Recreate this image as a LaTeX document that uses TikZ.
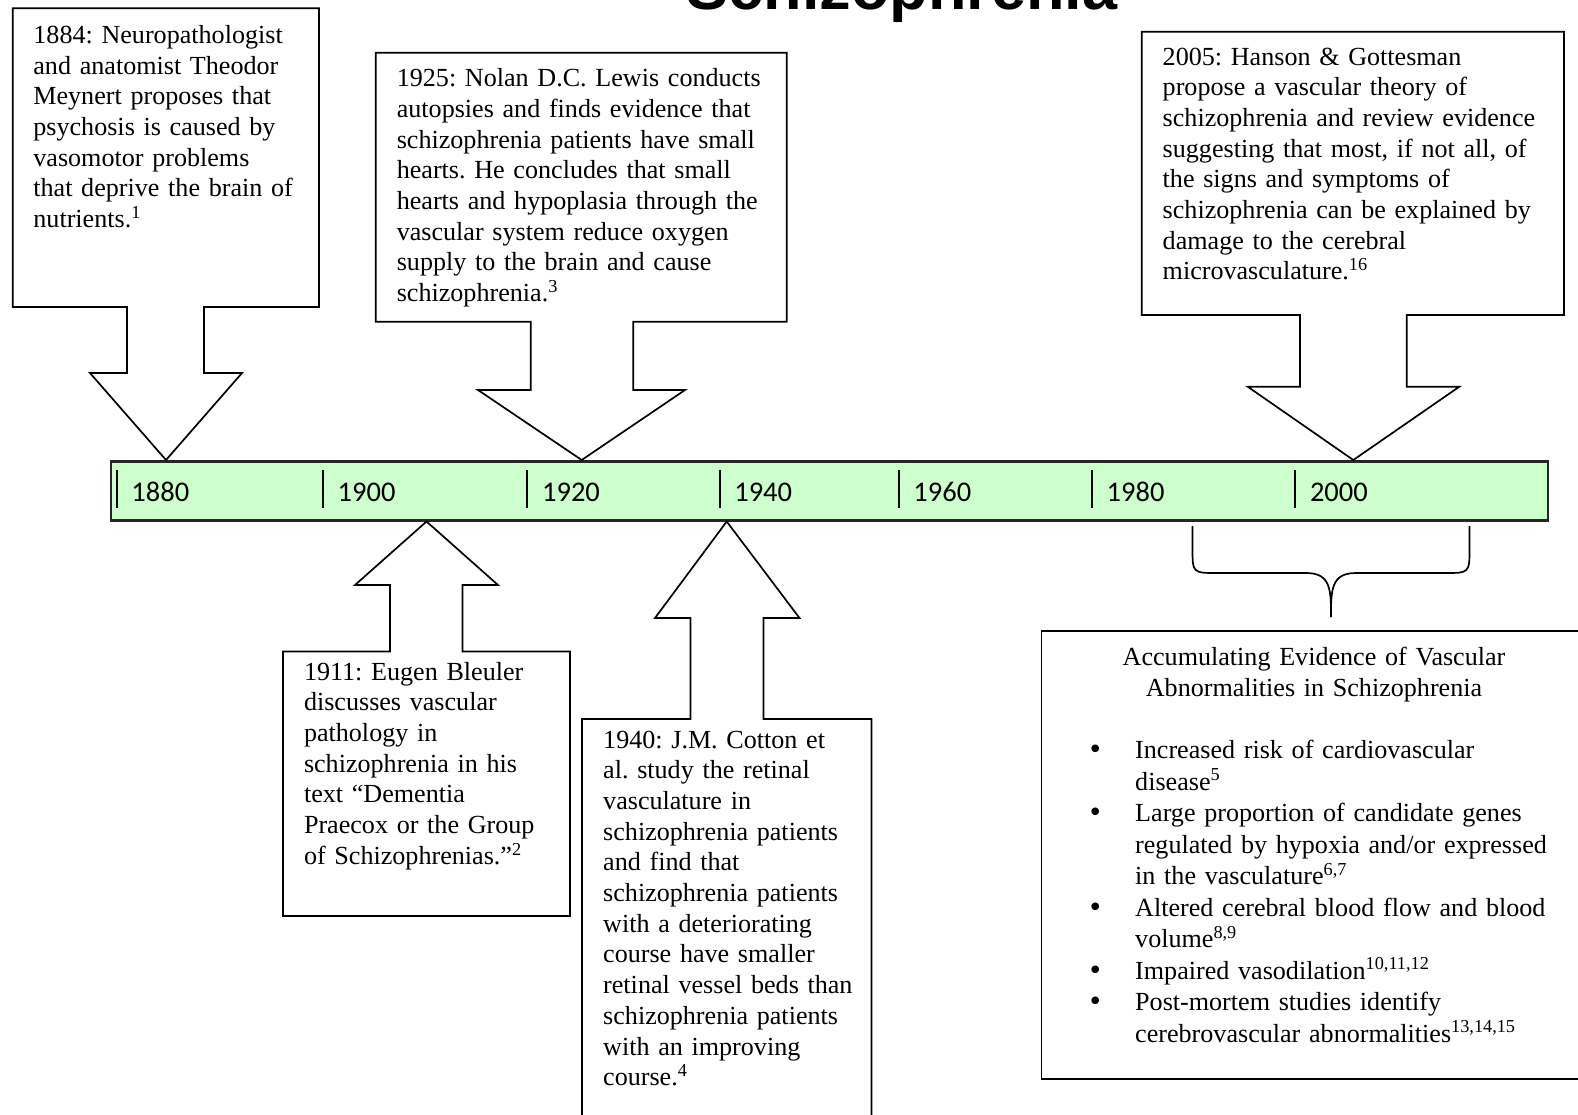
\documentclass[tikz,border=0pt]{standalone}
\usepackage{fontspec}
\setmainfont{Liberation Serif}
\newfontfamily\yearfont{Carlito}
\newfontfamily\titlefont{Liberation Sans}
\newfontfamily\bulletfont{DejaVu Sans}
\usepackage{tikz}
\usepackage{color}
\definecolor{barGreen}{RGB}{204,255,204}
\newcommand{\evbullet}{\makebox[45.5pt][l]{\hspace*{-2pt}{\bulletfont •}}}
\frenchspacing

\begin{document}
\begin{tikzpicture}[x=1pt, y=-1pt, line join=miter,
		callout/.style={draw=black, fill=white, line width=1.7pt},
		event/.style={anchor=base west, inner sep=0pt, text width=440pt, align=left,
			font=\fontsize{26.1}{30.7}\selectfont}]
		\path[use as bounding box, clip] (0,0) rectangle (1578,1114);
		
		% Title
		\node[anchor=base, inner sep=0pt, font=\titlefont\bfseries\fontsize{63}{70}\selectfont] (title) at (902,9.5) {Schizophrenia};
		
		% Time line
		\node[anchor=north west, fill=barGreen, draw=black!85, line width=2.5pt,
			minimum width=1437pt, minimum height=59pt, inner sep=0pt] (bar) at (109.7,460) {};
		\begin{scope}[every path/.style={draw=black, line width=2pt}]
			\draw (116.7,470) -- (116.7,508);
			\draw (323,470) -- (323,508);
			\draw (527.4,470) -- (527.4,508);
			\draw (719.6,470) -- (719.6,508);
			\draw (898.7,470) -- (898.7,508);
			\draw (1092,470) -- (1092,508);
			\draw (1295.3,470) -- (1295.3,508);
		\end{scope}
		\begin{scope}[every node/.style={anchor=base west, inner sep=0pt, font=\yearfont\fontsize{28.5}{30}\selectfont}]
			\node (y1880) at (131.2,501) {1880};
			\node (y1900) at (337.5,501) {1900};
			\node (y1920) at (541.9,501) {1920};
			\node (y1940) at (734.1,501) {1940};
			\node (y1960) at (913.2,501) {1960};
			\node (y1980) at (1106.5,501) {1980};
			\node (y2000) at (1309.8,501) {2000};
		\end{scope}
		
		% Callouts above the line
		\draw[callout] (12.7,307) -- (12.7,8.3) -- (319,8.3) -- (319,307) -- (204,307) -- (204,373)
			-- (242,373) -- (166,0 |- bar.north) -- (90,373) -- (127,373) -- (127,307) -- cycle;
		\draw[callout] (375.7,321.7) -- (375.7,52.7) -- (786.7,52.7) -- (786.7,321.7) -- (633.3,321.7) -- (633.3,390)
			-- (685,390) -- (581.7,0 |- bar.north) -- (478,390) -- (530.7,390) -- (530.7,321.7) -- cycle;
		\draw[callout] (1141.7,315) -- (1141.7,31.7) -- (1564,31.7) -- (1564,315) -- (1406.7,315) -- (1406.7,386.7)
			-- (1459.3,386.7) -- (1353.3,0 |- bar.north) -- (1247.7,386.7) -- (1300,386.7) -- (1300,315) -- cycle;
		
		% Callouts below the line
		\draw[callout] (283,651.5) -- (283,916) -- (570,916) -- (570,651.5) -- (462.5,651.5) -- (462.5,585)
			-- (498,585) -- (426.5,0 |- bar.south) -- (355,585) -- (390,585) -- (390,651.5) -- cycle;
		\draw[callout] (582,719) -- (582,1140) -- (871.5,1140) -- (871.5,719) -- (763.5,719) -- (763.5,618)
			-- (799.5,618) -- (726.7,0 |- bar.south) -- (655,618) -- (690.5,618) -- (690.5,719) -- cycle;
		
		% Event texts
		\node[event] (e1884) at (33.2,43.3) {1884: Neuropathologist\\
			and anatomist Theodor\\
			Meynert proposes that\\
			psychosis is caused by\\
			vasomotor problems\\
			that deprive the brain of\\
			nutrients.\textsuperscript{1}};
		\node[event] (e1925) at (396.6,86.7) {1925: Nolan D.C. Lewis conducts\\
			autopsies and finds evidence that\\
			schizophrenia patients have small\\
			hearts. He concludes that small\\
			hearts and hypoplasia through the\\
			vascular system reduce oxygen\\
			supply to the brain and cause\\
			schizophrenia.\textsuperscript{3}};
		\node[event] (e2005) at (1162.5,65) {2005: Hanson \& Gottesman\\
			propose a vascular theory of\\
			schizophrenia and review evidence\\
			suggesting that most, if not all, of\\
			the signs and symptoms of\\
			schizophrenia can be explained by\\
			damage to the cerebral\\
			microvasculature.\textsuperscript{16}};
		\node[event] (e1911) at (303.8,680) {1911: Eugen Bleuler\\
			discusses vascular\\
			pathology in\\
			schizophrenia in his\\
			text “Dementia\\
			Praecox or the Group\\
			of Schizophrenias.”\textsuperscript{2}};
		\node[event] (e1940) at (603,748) {1940: J.M. Cotton et\\
			al. study the retinal\\
			vasculature in\\
			schizophrenia patients\\
			and find that\\
			schizophrenia patients\\
			with a deteriorating\\
			course have smaller\\
			retinal vessel beds than\\
			schizophrenia patients\\
			with an improving\\
			course.\textsuperscript{4}};
		
		% Brace and evidence box
		\draw[line width=1.7pt] (1192.5,526) -- (1192.5,548) .. controls (1192.5,573) .. (1217.5,573) -- (1306,573)
			.. controls (1331,573) and (1331,590) .. (1331,617)
			.. controls (1331,590) and (1331,573) .. (1356,573) -- (1444.5,573)
			.. controls (1469.5,573) .. (1469.5,548) -- (1469.5,526);
		\draw[callout] (1041.6,631) rectangle (1600,1079);
		\node[anchor=base, inner sep=0pt, text width=500pt, align=center,
			font=\fontsize{26.1}{31.5}\selectfont] (evhead) at (1314,665) {Accumulating Evidence of Vascular\\
			Abnormalities in Schizophrenia};
		\node[event, text width=480pt, font=\fontsize{26.1}{31.5}\selectfont] (evlist) at (1089.5,758.5) {%
			\evbullet Increased risk of cardiovascular\\
			\hspace*{45.5pt}disease\textsuperscript{5}\\
			\evbullet Large proportion of candidate genes\\
			\hspace*{45.5pt}regulated by hypoxia and/or expressed\\
			\hspace*{45.5pt}in the vasculature\textsuperscript{6,7}\\
			\evbullet Altered cerebral blood flow and blood\\
			\hspace*{45.5pt}volume\textsuperscript{8,9}\\
			\evbullet Impaired vasodilation\textsuperscript{10,11,12}\\
			\evbullet Post-mortem studies identify\\
			\hspace*{45.5pt}cerebrovascular abnormalities\textsuperscript{13,14,15}};
		
	\end{tikzpicture}
\end{document}
